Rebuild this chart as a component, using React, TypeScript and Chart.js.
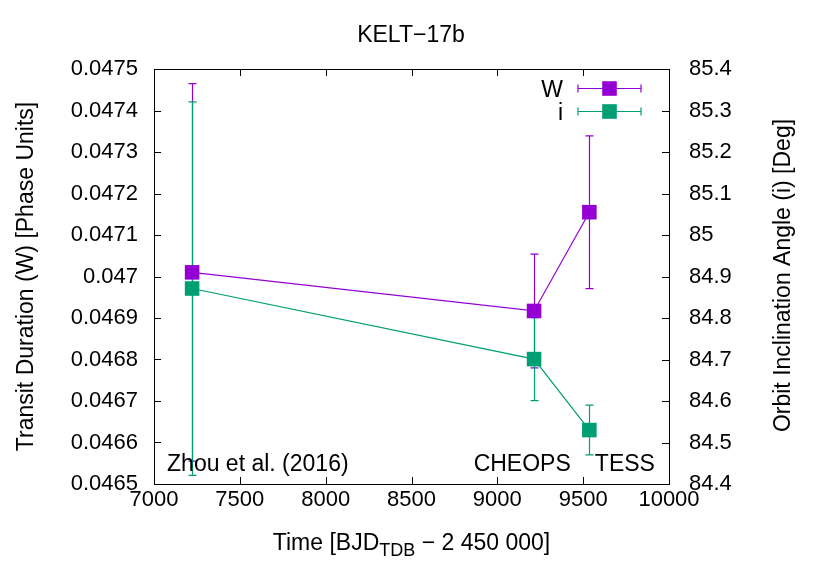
import React, { useEffect, useRef } from "react";
import { Chart, registerables } from "chart.js";

Chart.register(...registerables);

// ---- data ----
const TIME = [7222, 9214, 9536];
const W_VALUES = [0.04701, 0.046917, 0.047155];
const W_ERRORS = [0.000455, 0.000137, 0.000184];
const I_VALUES = [84.871, 84.701, 84.53];
const I_ERRORS = [0.45, 0.1, 0.06];

const X_TICKS = [7000, 7500, 8000, 8500, 9000, 9500, 10000];
const X_TICK_LABELS = ["7000", "7500", "8000", "8500", "9000", "9500", "10000"];
const W_TICKS = [0.0465, 0.0466, 0.0467, 0.0468, 0.0469, 0.047, 0.0471, 0.0472, 0.0473, 0.0474, 0.0475];
const W_TICK_LABELS = ["0.0465", "0.0466", "0.0467", "0.0468", "0.0469", "0.047", "0.0471", "0.0472", "0.0473", "0.0474", "0.0475"];
const I_TICKS = [84.4, 84.5, 84.6, 84.7, 84.8, 84.9, 85.0, 85.1, 85.2, 85.3, 85.4];
const I_TICK_LABELS = ["84.4", "84.5", "84.6", "84.7", "84.8", "84.9", "85", "85.1", "85.2", "85.3", "85.4"];

const SOURCE_LABELS = ["Zhou et al. (2016)", "CHEOPS", "TESS"];
const SOURCE_LABEL_X = [7076, 8862, 9568];
const SOURCE_LABEL_W = 0.046531;

const SERIES_NAMES = ["W", "i"];
const TITLE = "KELT\u221217b";
const Y_TITLE = "Transit Duration (W) [Phase Units]";
const Y2_TITLE = "Orbit Inclination Angle (i) [Deg]";

const PURPLE = "#9400d3";
const TEAL = "#009e73";
const FONT_FAMILY = '"Liberation Sans", Arial, Helvetica, sans-serif';
const FONT = `23px ${FONT_FAMILY}`;

function drawErrorBars(ctx: CanvasRenderingContext2D, xs: any, ys: any, vals: number[], errs: number[], color: string) {
  ctx.save();
  ctx.strokeStyle = color;
  ctx.lineWidth = 1.2;
  const cap = 4;
  for (let k = 0; k < vals.length; k++) {
    const px = Math.round(xs.getPixelForValue(TIME[k])) + 0.5;
    const top = ys.getPixelForValue(vals[k] + errs[k]);
    const bot = ys.getPixelForValue(vals[k] - errs[k]);
    ctx.beginPath();
    ctx.moveTo(px, top);
    ctx.lineTo(px, bot);
    ctx.moveTo(px - cap, top);
    ctx.lineTo(px + cap, top);
    ctx.moveTo(px - cap, bot);
    ctx.lineTo(px + cap, bot);
    ctx.stroke();
  }
  ctx.restore();
}

const customPlugin = {
  id: "customGnuplot",
  beforeDatasetsDraw(chart: any) {
    const { ctx, scales } = chart;
    drawErrorBars(ctx, scales.x, scales.y, W_VALUES, W_ERRORS, PURPLE);
    drawErrorBars(ctx, scales.x, scales.y2, I_VALUES, I_ERRORS, TEAL);
  },
  afterDraw(chart: any) {
    const { ctx, chartArea, scales } = chart;
    const { left, right, top, bottom } = chartArea;
    ctx.save();
    // frame
    ctx.strokeStyle = "#000";
    ctx.lineWidth = 1;
    ctx.strokeRect(Math.round(left) + 0.5, Math.round(top) + 0.5, Math.round(right - left), Math.round(bottom - top));
    // ticks
    const tl = 7;
    ctx.beginPath();
    X_TICKS.forEach((v) => {
      const px = Math.round(scales.x.getPixelForValue(v)) + 0.5;
      ctx.moveTo(px, bottom);
      ctx.lineTo(px, bottom - tl);
      ctx.moveTo(px, top);
      ctx.lineTo(px, top + tl);
    });
    W_TICKS.forEach((v) => {
      const py = Math.round(scales.y.getPixelForValue(v)) + 0.5;
      ctx.moveTo(left, py);
      ctx.lineTo(left + tl, py);
    });
    I_TICKS.forEach((v) => {
      const py = Math.round(scales.y2.getPixelForValue(v)) + 0.5;
      ctx.moveTo(right, py);
      ctx.lineTo(right - tl, py);
    });
    ctx.stroke();

    ctx.fillStyle = "#000";
    ctx.font = FONT;
    ctx.textBaseline = "alphabetic";
    // title
    ctx.textAlign = "center";
    ctx.fillText(TITLE, 411, 41.7);

    // x title with subscript
    const mainA = "Time [BJD";
    const sub = "TDB";
    const mainB = " \u2212 2 450 000]";
    const subFont = `18px ${FONT_FAMILY}`;
    ctx.font = FONT;
    const wA = ctx.measureText(mainA).width;
    const wB = ctx.measureText(mainB).width;
    ctx.font = subFont;
    const wS = ctx.measureText(sub).width;
    const total = wA + wS + wB;
    let sx = 411.5 - total / 2;
    const by = 549.5;
    ctx.textAlign = "left";
    ctx.font = FONT;
    ctx.fillText(mainA, sx, by);
    sx += wA;
    ctx.font = subFont;
    ctx.fillText(sub, sx, by + 6);
    sx += wS;
    ctx.font = FONT;
    ctx.fillText(mainB, sx, by);

    // y titles
    ctx.textAlign = "center";
    ctx.save();
    ctx.translate(33, (top + bottom) / 2);
    ctx.rotate(-Math.PI / 2);
    ctx.fillText(Y_TITLE, 0, 0);
    ctx.restore();
    ctx.save();
    ctx.translate(790, (top + bottom) / 2 - 1);
    ctx.rotate(-Math.PI / 2);
    ctx.fillText(Y2_TITLE, 0, 0);
    ctx.restore();

    // source labels
    ctx.textAlign = "left";
    const ly = scales.y.getPixelForValue(SOURCE_LABEL_W);
    SOURCE_LABELS.forEach((t, k) => {
      ctx.fillText(t, scales.x.getPixelForValue(SOURCE_LABEL_X[k]), ly);
    });

    // legend
    const colors = [PURPLE, TEAL];
    const rowY = [top + 18.5, top + 41.7];
    const x0 = right - 91;
    const x1 = right - 28;
    SERIES_NAMES.forEach((name, k) => {
      const yy = Math.round(rowY[k]) + 0.5;
      ctx.fillStyle = "#000";
      ctx.textAlign = "right";
      ctx.fillText(name, right - 106, yy + 8);
      ctx.strokeStyle = colors[k];
      ctx.lineWidth = 1.2;
      ctx.beginPath();
      ctx.moveTo(x0, yy);
      ctx.lineTo(x1, yy);
      ctx.moveTo(x0, yy - 4);
      ctx.lineTo(x0, yy + 4);
      ctx.moveTo(x1, yy - 4);
      ctx.lineTo(x1, yy + 4);
      ctx.stroke();
      ctx.fillStyle = colors[k];
      const cx = (x0 + x1) / 2;
      ctx.fillRect(cx - 7.3, yy - 7.3, 14.6, 14.6);
    });
    ctx.restore();
  },
};

export default function App() {
  const ref = useRef<HTMLCanvasElement | null>(null);
  useEffect(() => {
    if (!ref.current) return;
    const chart = new Chart(ref.current, {
      type: "scatter",
      data: {
        datasets: [
          {
            label: SERIES_NAMES[0],
            data: TIME.map((t, k) => ({ x: t, y: W_VALUES[k] })),
            yAxisID: "y",
            showLine: true,
            borderColor: PURPLE,
            backgroundColor: PURPLE,
            borderWidth: 1.2,
            pointStyle: "rect",
            pointRadius: 10.3,
            pointBorderWidth: 0,
            pointBackgroundColor: PURPLE,
            order: 1,
          },
          {
            label: SERIES_NAMES[1],
            data: TIME.map((t, k) => ({ x: t, y: I_VALUES[k] })),
            yAxisID: "y2",
            showLine: true,
            borderColor: TEAL,
            backgroundColor: TEAL,
            borderWidth: 1.2,
            pointStyle: "rect",
            pointRadius: 10.3,
            pointBorderWidth: 0,
            pointBackgroundColor: TEAL,
            order: 0,
          },
        ],
      },
      options: {
        animation: false,
        responsive: false,
        devicePixelRatio: 1,
        layout: { padding: { top: 69, left: 0, right: 0, bottom: 0 } },
        plugins: { legend: { display: false }, tooltip: { enabled: false }, title: { display: false } },
        scales: {
          x: {
            type: "linear",
            position: "bottom",
            min: 7000,
            max: 10000,
            grid: { display: false, drawTicks: false },
            border: { display: false },
            ticks: {
              color: "#000",
              font: { family: FONT_FAMILY, size: 22 },
              padding: 3,
              maxRotation: 0,
              autoSkip: false,
              callback: (_v: any, idx: number) => X_TICK_LABELS[idx],
            },
            afterBuildTicks: (s: any) => {
              s.ticks = X_TICKS.map((v) => ({ value: v }));
            },
            afterFit: (s: any) => {
              s.height = 97;
            },
          },
          y: {
            type: "linear",
            position: "left",
            min: 0.0465,
            max: 0.0475,
            grid: { display: false, drawTicks: false },
            border: { display: false },
            ticks: {
              color: "#000",
              font: { family: FONT_FAMILY, size: 22 },
              padding: 16,
              autoSkip: false,
              callback: (_v: any, idx: number) => W_TICK_LABELS[idx],
            },
            afterBuildTicks: (s: any) => {
              s.ticks = W_TICKS.map((v) => ({ value: v }));
            },
            afterFit: (s: any) => {
              s.width = 154;
            },
          },
          y2: {
            type: "linear",
            position: "right",
            min: 84.4,
            max: 85.4,
            grid: { display: false, drawTicks: false },
            border: { display: false },
            ticks: {
              color: "#000",
              font: { family: FONT_FAMILY, size: 22 },
              padding: 20,
              autoSkip: false,
              callback: (_v: any, idx: number) => I_TICK_LABELS[idx],
            },
            afterBuildTicks: (s: any) => {
              s.ticks = I_TICKS.map((v) => ({ value: v }));
            },
            afterFit: (s: any) => {
              s.width = 161;
            },
          },
        },
      },
      plugins: [customPlugin],
    });
    return () => chart.destroy();
  }, []);

  return (
    <div style={{ position: "absolute", left: 0, top: 0, width: 830, height: 581, background: "#fff" }}>
      <canvas ref={ref} width={830} height={581} style={{ width: 830, height: 581, display: "block" }} />
    </div>
  );
}
